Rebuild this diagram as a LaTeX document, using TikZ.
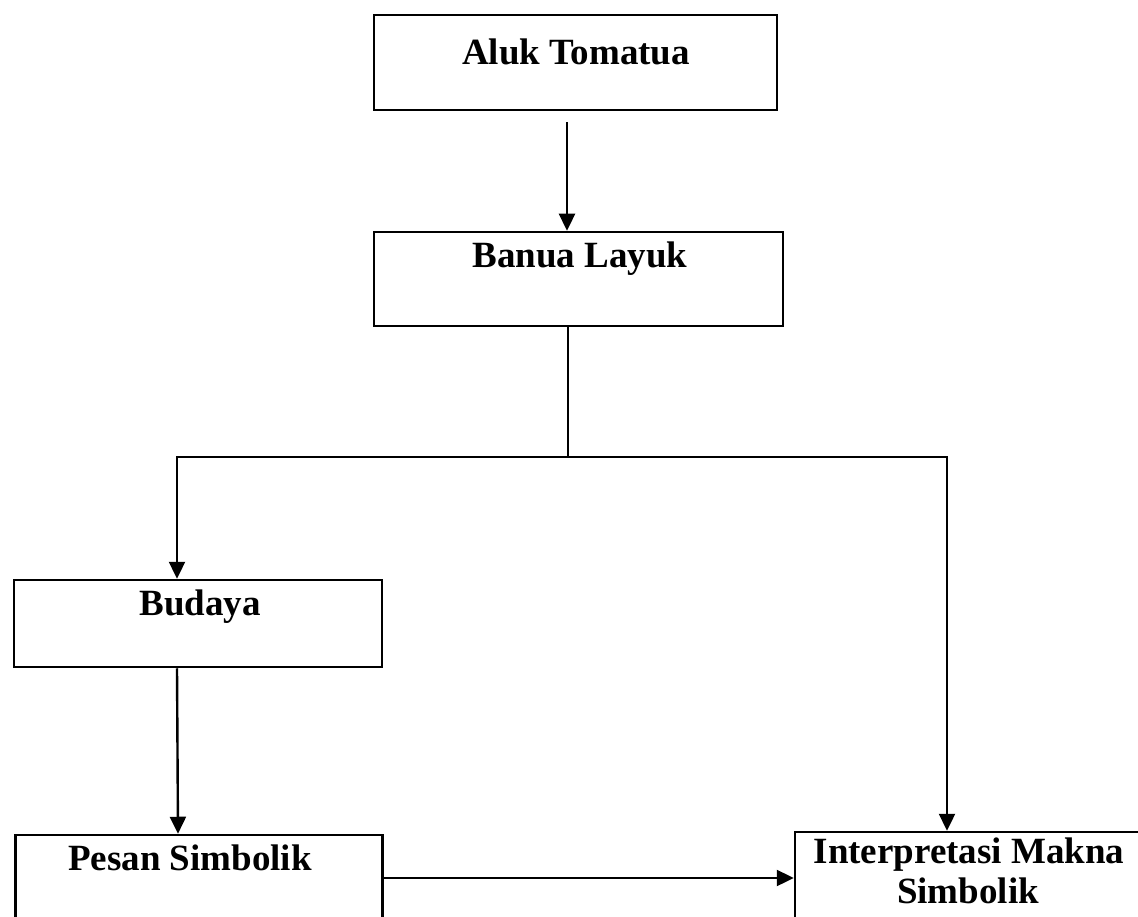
\documentclass[tikz,border=0pt]{standalone}
\usepackage{fontspec}
\setmainfont{Liberation Serif}
\usetikzlibrary{arrows.meta,calc}
\tikzset{
  box/.style={draw=black, line width=2.5pt, rectangle, inner sep=0pt},
  lbl/.style={font=\fontsize{37}{41}\selectfont\bfseries, anchor=base, inner sep=0pt, text=black},
  arr/.style={line width=2.4pt, -{Triangle[width=16pt,length=17pt]}},
  ln/.style={line width=2.4pt}
}
\begin{document}
\begin{tikzpicture}[x=1pt,y=-1pt]
\useasboundingbox (0,0) rectangle (1138,917);
\fill[white] (0,0) rectangle (1138,917);
\clip (0,0) rectangle (1138,917);
% boxes
\node[box, minimum width=403pt, minimum height=95pt] (aluk) at (575.5,62.5) {};
\node[box, minimum width=409pt, minimum height=94pt] (banua) at (578.5,279) {};
\node[box, minimum width=368pt, minimum height=87pt] (budaya) at (198,623.5) {};
\node[box, minimum width=367pt, minimum height=125pt] (pesan) at (199,897.5) {};
\node[box, minimum width=365pt, minimum height=128pt] (interp) at (977.5,896) {};
% labels
\node[lbl] (t1) at (576,65) {Aluk Tomatua};
\node[lbl] (t2) at (580,268) {Banua Layuk};
\node[lbl] (t3) at (200,615) {Budaya};
\node[lbl] (t4) at (190,870) {Pesan Simbolik};
\node[lbl] (t5) at (969,863) {Interpretasi Makna};
\node[lbl] (t6) at (968,903) {Simbolik};
% connectors
\draw[arr] ([xshift=-8.5pt,yshift=-11pt]aluk.south) -- ([xshift=-11.5pt]banua.north);
\coordinate (j) at (568,457);
\draw[ln] (banua.south -| j) -- (j);
\draw[arr] (j) -| ([xshift=-21pt]budaya.north);
\draw[arr] (j) -| ([xshift=-30.5pt]interp.north);
\draw[arr] ([xshift=-21pt]budaya.south) -- ([xshift=-21pt]pesan.north);
\coordinate (h) at (0,878);
\draw[arr] (pesan.east |- h) -- (interp.west |- h);
\end{tikzpicture}
\end{document}
